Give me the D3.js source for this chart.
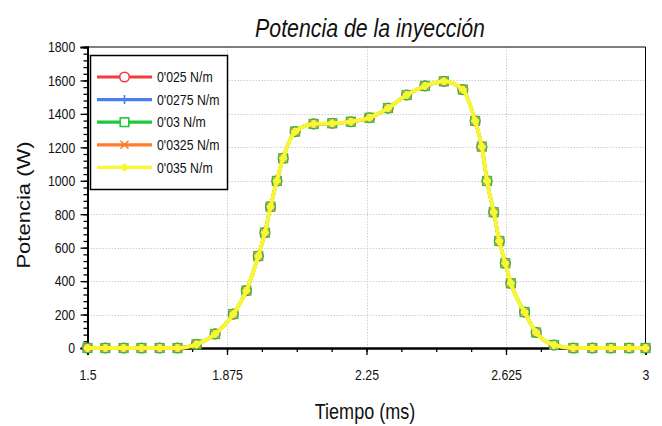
<!DOCTYPE html>
<html>
<head>
<meta charset="utf-8">
<script src="https://cdn.jsdelivr.net/npm/d3@7"></script>
<style>
  html, body { margin: 0; padding: 0; background: #fff; }
  svg { display: block; font-family: "Liberation Sans", Arial, sans-serif; }
</style>
</head>
<body>
<svg id="chart" width="662" height="426"></svg>
<script>
// Sample times (ms) where each curve was recorded
const tiempo = [1.500, 1.548, 1.597, 1.645, 1.694, 1.742, 1.793, 1.843, 1.892, 1.927,
  1.959, 1.977, 1.992, 2.009, 2.026, 2.058, 2.108, 2.158, 2.208, 2.258,
  2.308, 2.358, 2.407, 2.458, 2.509, 2.542, 2.560, 2.574, 2.592, 2.607,
  2.623, 2.638, 2.675, 2.706, 2.754, 2.806, 2.857, 2.907, 2.956, 3.000];

// Injection power (W) for each surface tension
const p025 = [0, 0, 0, 0, 0, 0, 22, 84, 203, 343,
  550, 690, 845, 999, 1135, 1294, 1340, 1344, 1353, 1377,
  1435, 1513, 1567, 1595, 1545, 1358, 1204, 999, 812, 640,
  507, 387, 215, 93, 18, 0, 0, 0, 0, 0];
const p0275 = [0, 0, 0, 0, 0, 0, 22, 84, 203, 343,
  550, 690, 845, 999, 1135, 1294, 1340, 1344, 1353, 1377,
  1435, 1513, 1567, 1595, 1545, 1358, 1204, 999, 812, 640,
  507, 387, 215, 93, 18, 0, 0, 0, 0, 0];
const p03 = [0, 0, 0, 0, 0, 0, 22, 84, 203, 343,
  550, 690, 845, 999, 1135, 1294, 1340, 1344, 1353, 1377,
  1435, 1513, 1567, 1595, 1545, 1358, 1204, 999, 812, 640,
  507, 387, 215, 93, 18, 0, 0, 0, 0, 0];
const p0325 = [0, 0, 0, 0, 0, 0, 22, 84, 203, 343,
  550, 690, 845, 999, 1135, 1294, 1340, 1344, 1353, 1377,
  1435, 1513, 1567, 1595, 1545, 1358, 1204, 999, 812, 640,
  507, 387, 215, 93, 18, 0, 0, 0, 0, 0];
const p035 = [0, 0, 0, 0, 0, 0, 22, 84, 203, 343,
  550, 690, 845, 999, 1135, 1294, 1340, 1344, 1353, 1377,
  1435, 1513, 1567, 1595, 1545, 1358, 1204, 999, 812, 640,
  507, 387, 215, 93, 18, 0, 0, 0, 0, 0];

const seriesNames = ["0'025 N/m", "0'0275 N/m", "0'03 N/m", "0'0325 N/m", "0'035 N/m"];
const seriesValues = [p025, p0275, p03, p0325, p035];
const seriesColors = ["#f23c3c", "#4a7ef2", "#1ec83c", "#ff7b2e", "#f8f832"];
const seriesMarkers = ["circle", "plus", "square", "cross", "dot"];

const xTicks = [1.5, 1.875, 2.25, 2.625, 3];
const xTickLabels = ["1.5", "1.875", "2.25", "2.625", "3"];
const yTicks = [0, 200, 400, 600, 800, 1000, 1200, 1400, 1600, 1800];

const titulo = "Potencia de la inyección";
const ejeX = "Tiempo (ms)";
const ejeY = "Potencia (W)";

// text is drawn narrow (condensed horizontally)
const SX = 0.82;

const svg = d3.select("#chart");
const plotL = 87.5, plotR = 645.5, plotT = 47, plotB = 348;

const x = d3.scaleLinear().domain([1.5, 3]).range([plotL, plotR]);
const y = d3.scaleLinear().domain([0, 1800]).range([plotB, plotT]);

// dotted grid
const grid = svg.append("g").attr("stroke", "#cfcfcf").attr("stroke-width", 1)
  .attr("stroke-dasharray", "1.5,1.5");
grid.selectAll("line.h").data(yTicks.filter(d => d > 0 && d < 1800)).join("line")
  .attr("x1", plotL).attr("x2", plotR)
  .attr("y1", d => Math.round(y(d)) + 0.5).attr("y2", d => Math.round(y(d)) + 0.5);
grid.selectAll("line.v").data(xTicks.filter(d => d > 1.5 && d < 3)).join("line")
  .attr("y1", plotT).attr("y2", plotB)
  .attr("x1", d => Math.round(x(d)) + 0.5).attr("x2", d => Math.round(x(d)) + 0.5);

// frame (top and right)
svg.append("path")
  .attr("d", `M${plotL},${plotT}H${plotR}V${plotB}`)
  .attr("fill", "none").attr("stroke", "#000").attr("stroke-width", 1);

// axes
const xMinor = d3.range(1.5, 3.0001, 0.09375);
const yMinor = d3.range(0, 1800.1, 40);

const xAxisMinor = d3.axisBottom(x).tickValues(xMinor).tickSize(4).tickFormat("");
const xAxis = d3.axisBottom(x).tickValues(xTicks).tickSize(7).tickPadding(14)
  .tickFormat((d, i) => xTickLabels[i]);
const yAxisMinor = d3.axisLeft(y).tickValues(yMinor).tickSize(4).tickFormat("");
const yAxis = d3.axisLeft(y).tickValues(yTicks).tickSize(7).tickPadding(8)
  .tickFormat(d3.format("d"));

function styleAxis(g) {
  g.select(".domain").attr("stroke", "#000").attr("stroke-width", 2);
  g.selectAll(".tick line").attr("stroke", "#000").attr("stroke-width", 1.3);
  g.selectAll(".tick text").attr("fill", "#111").style("font-size", "15px")
    .style("font-family", "Liberation Sans, Arial, sans-serif")
    .attr("transform", `scale(${SX},1)`);
}

svg.append("g").attr("transform", `translate(0,${plotB})`).call(xAxisMinor).call(styleAxis);
svg.append("g").attr("transform", `translate(0,${plotB})`).call(xAxis).call(styleAxis);
svg.append("g").attr("transform", `translate(${plotL},0)`).call(yAxisMinor).call(styleAxis);
svg.append("g").attr("transform", `translate(${plotL},0)`).call(yAxis).call(styleAxis);

// curves
const line = d3.line().x(d => x(d[0])).y(d => y(d[1])).curve(d3.curveMonotoneX);

function drawMarker(g, kind, color, cx, cy) {
  if (kind === "circle") {
    g.append("circle").attr("cx", cx).attr("cy", cy).attr("r", 4.8)
      .attr("fill", "#fff").attr("stroke", color).attr("stroke-width", 1.6);
  } else if (kind === "plus") {
    g.append("path").attr("d", `M${cx - 4.5},${cy}H${cx + 4.5}M${cx},${cy - 4.5}V${cy + 4.5}`)
      .attr("stroke", color).attr("stroke-width", 1.6).attr("fill", "none");
  } else if (kind === "square") {
    g.append("rect").attr("x", cx - 4.3).attr("y", cy - 4.3).attr("width", 8.6).attr("height", 8.6)
      .attr("fill", "#fff").attr("stroke", color).attr("stroke-width", 1.6);
  } else if (kind === "cross") {
    g.append("path").attr("d", `M${cx - 4},${cy - 4}L${cx + 4},${cy + 4}M${cx - 4},${cy + 4}L${cx + 4},${cy - 4}`)
      .attr("stroke", color).attr("stroke-width", 1.6).attr("fill", "none");
  } else {
    g.append("path").attr("d", `M${cx},${cy - 4}L${cx + 4},${cy}L${cx},${cy + 4}L${cx - 4},${cy}Z`)
      .attr("fill", color).attr("stroke", color).attr("stroke-width", 1);
  }
}

const plot = svg.append("g");
seriesValues.forEach((vals, s) => {
  const pts = tiempo.map((t, i) => [t, vals[i]]);
  const g = plot.append("g");
  g.append("path").datum(pts).attr("d", line)
    .attr("fill", "none").attr("stroke", seriesColors[s])
    .attr("stroke-width", s === 4 ? 4 : 3.2).attr("stroke-linejoin", "round");
  pts.forEach(p => drawMarker(g, seriesMarkers[s], seriesColors[s], x(p[0]), y(p[1])));
});

// legend
const lg = svg.append("g");
lg.append("rect").attr("x", 90.5).attr("y", 55.5).attr("width", 137).attr("height", 134)
  .attr("fill", "#fff").attr("stroke", "#000").attr("stroke-width", 1.5);
seriesNames.forEach((name, i) => {
  const ly = 77 + i * 22.6;
  lg.append("line").attr("x1", 97).attr("x2", 152).attr("y1", ly).attr("y2", ly)
    .attr("stroke", seriesColors[i]).attr("stroke-width", 3.2);
  drawMarker(lg, seriesMarkers[i], seriesColors[i], 124.5, ly);
  lg.append("text").attr("transform", `translate(157,${ly}) scale(${SX},1)`)
    .attr("dy", "0.35em").style("font-size", "15px").attr("fill", "#111").text(name);
});

// titles
svg.append("text").attr("transform", `translate(370,37) scale(${SX},1)`)
  .attr("text-anchor", "middle")
  .style("font-size", "26px").style("font-style", "italic").attr("fill", "#111").text(titulo);
svg.append("text").attr("transform", `translate(365,419) scale(${SX},1)`)
  .attr("text-anchor", "middle")
  .style("font-size", "22px").attr("fill", "#111").text(ejeX);
svg.append("text").attr("transform", `translate(30,205) scale(${SX},1) rotate(-90)`)
  .attr("text-anchor", "middle").style("font-size", "22px").attr("fill", "#111").text(ejeY);
</script>
</body>
</html>
